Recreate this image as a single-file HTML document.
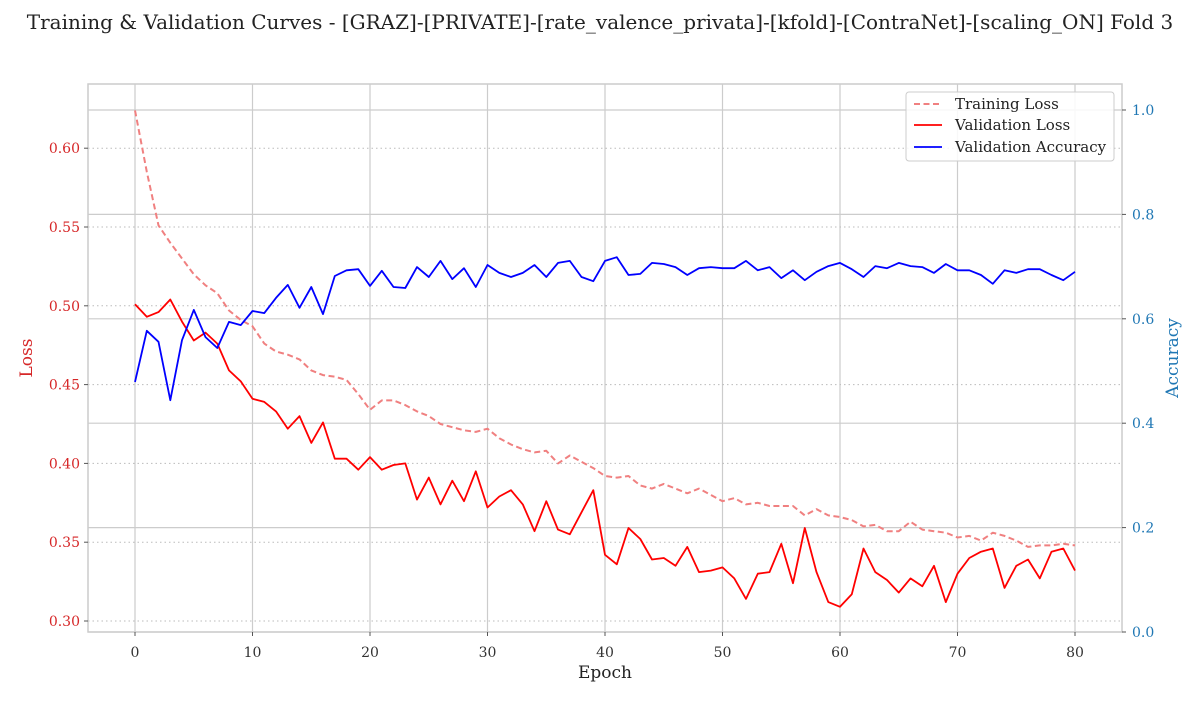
<!DOCTYPE html>
<html><head><meta charset="utf-8"><style>
body{margin:0;background:#fff}
svg text{font-family:"DejaVu Serif","Liberation Serif",serif}
</style></head><body>
<svg id="chart" width="1200" height="700" xmlns="http://www.w3.org/2000/svg">
<text x="600" y="29" text-anchor="middle" font-size="20" fill="#222">Training &amp; Validation Curves - [GRAZ]-[PRIVATE]-[rate_valence_privata]-[kfold]-[ContraNet]-[scaling_ON] Fold 3</text>
<g id="grid"></g><g id="series"></g><g id="axes"></g>
</svg>
<script>
const epochs=[];for(let i=0;i<=80;i++)epochs.push(i);
const trainLoss=[0.624,0.585,0.551,0.540,0.530,0.520,0.513,0.508,0.497,0.491,0.487,0.476,0.471,0.469,0.466,0.459,0.456,0.455,0.453,0.444,0.434,0.440,0.440,0.437,0.433,0.430,0.425,0.423,0.421,0.420,0.422,0.416,0.412,0.409,0.407,0.408,0.400,0.405,0.401,0.397,0.392,0.391,0.392,0.386,0.384,0.387,0.384,0.381,0.384,0.380,0.376,0.378,0.374,0.375,0.373,0.373,0.373,0.367,0.371,0.367,0.366,0.364,0.360,0.361,0.357,0.357,0.363,0.358,0.357,0.356,0.353,0.354,0.351,0.356,0.354,0.351,0.347,0.348,0.348,0.349,0.348];
const valLoss=[0.501,0.493,0.496,0.504,0.490,0.478,0.483,0.476,0.459,0.452,0.441,0.439,0.433,0.422,0.430,0.413,0.426,0.403,0.403,0.396,0.404,0.396,0.399,0.400,0.377,0.391,0.374,0.389,0.376,0.395,0.372,0.379,0.383,0.374,0.357,0.376,0.358,0.355,0.369,0.383,0.342,0.336,0.359,0.352,0.339,0.340,0.335,0.347,0.331,0.332,0.334,0.327,0.314,0.330,0.331,0.349,0.324,0.359,0.331,0.312,0.309,0.317,0.346,0.331,0.326,0.318,0.327,0.322,0.335,0.312,0.330,0.340,0.344,0.346,0.321,0.335,0.339,0.327,0.344,0.346,0.332];
const valAcc=[0.479,0.577,0.556,0.444,0.559,0.617,0.565,0.544,0.594,0.588,0.615,0.611,0.640,0.665,0.621,0.661,0.609,0.682,0.693,0.695,0.663,0.692,0.661,0.659,0.699,0.680,0.711,0.676,0.697,0.661,0.703,0.688,0.680,0.688,0.703,0.680,0.707,0.711,0.680,0.672,0.711,0.718,0.684,0.686,0.707,0.705,0.699,0.684,0.697,0.699,0.697,0.697,0.711,0.693,0.699,0.678,0.693,0.674,0.690,0.701,0.707,0.695,0.680,0.701,0.697,0.707,0.701,0.699,0.688,0.705,0.693,0.693,0.684,0.667,0.693,0.688,0.695,0.695,0.684,0.674,0.690];
const xTicks=[0,10,20,30,40,50,60,70,80];
const lossTicks=[0.30,0.35,0.40,0.45,0.50,0.55,0.60];
const accTicks=[0.0,0.2,0.4,0.6,0.8,1.0];
const L=88,R=1122,T=84,B=632;
const xs=e=>135+e*11.75;
const yL=v=>621-(v-0.30)*1576;
const yA=v=>632-v*522;
const NS="http://www.w3.org/2000/svg";
function mk(tag,attrs,parent,txt){const el=document.createElementNS(NS,tag);for(const k in attrs)el.setAttribute(k,attrs[k]);if(txt!==undefined)el.textContent=txt;parent.appendChild(el);return el;}
const grid=document.getElementById('grid'),ser=document.getElementById('series'),axes=document.getElementById('axes');
xTicks.forEach(t=>{const g=mk('line',{x1:xs(t),x2:xs(t),y1:T,y2:B,stroke:'#cccccc','stroke-width':1.2},grid);

});
accTicks.forEach(t=>{const g=mk('line',{x1:L,x2:R,y1:yA(t),y2:yA(t),stroke:'#cccccc','stroke-width':1.2},grid);

});
lossTicks.forEach(t=>{const g=mk('line',{x1:L,x2:R,y1:yL(t),y2:yL(t),stroke:'#bbbbbb','stroke-width':1,'stroke-dasharray':'1.5,3'},grid);

});
function poly(arr,yf,attrs,name){const p=arr.map((v,i)=>xs(epochs[i]).toFixed(1)+','+yf(v).toFixed(1)).join(' ');const el=mk('polyline',Object.assign({points:p,fill:'none','stroke-linejoin':'round'},attrs),ser);

}
poly(trainLoss,yL,{stroke:'#f08080','stroke-width':2,'stroke-dasharray':'6,3.5'},'training-loss-line');
poly(valLoss,yL,{stroke:'#ff0000','stroke-width':1.8},'validation-loss-line');
poly(valAcc,yA,{stroke:'#0000ff','stroke-width':1.8},'validation-accuracy-line');
const frame=mk('rect',{x:L,y:T,width:R-L,height:B-T,fill:'none',stroke:'#cccccc','stroke-width':1.5},axes);


xTicks.forEach(t=>{mk('line',{x1:xs(t),x2:xs(t),y1:B,y2:B+4,stroke:'#555'},axes);const tx=mk('text',{x:xs(t),y:B+25,'text-anchor':'middle','font-size':14,fill:'#333'},axes,String(t));

});
lossTicks.forEach(t=>{mk('line',{x1:L-4,x2:L,y1:yL(t),y2:yL(t),stroke:'#555'},axes);const tx=mk('text',{x:L-8,y:yL(t)+5,'text-anchor':'end','font-size':14,fill:'#d62728'},axes,t.toFixed(2));

});
accTicks.forEach(t=>{mk('line',{x1:R,x2:R+4,y1:yA(t),y2:yA(t),stroke:'#555'},axes);const tx=mk('text',{x:R+10,y:yA(t)+5,'font-size':14,fill:'#1f77b4'},axes,t.toFixed(1));

});
</script>
<svg style="position:absolute;left:0;top:0" width="1200" height="700" xmlns="http://www.w3.org/2000/svg">
<text x="605" y="678" text-anchor="middle" font-size="17" fill="#222" font-family="DejaVu Serif, serif">Epoch</text>
<text transform="translate(32,358) rotate(-90)" text-anchor="middle" font-size="17" fill="#d62728" font-family="DejaVu Serif, serif">Loss</text>
<text transform="translate(1178,358) rotate(-90)" text-anchor="middle" font-size="17" fill="#1f77b4" font-family="DejaVu Serif, serif">Accuracy</text>
<g font-family="DejaVu Serif, serif" font-size="15" fill="#222">
<rect x="906" y="92" width="208" height="69" rx="3" fill="#fff" fill-opacity="0.85" stroke="#cccccc"/>
<g><line x1="914" x2="942" y1="104" y2="104" stroke="#f08080" stroke-width="2" stroke-dasharray="6,3.5"/><text x="955" y="109">Training Loss</text></g>
<g><line x1="914" x2="942" y1="125" y2="125" stroke="#ff0000" stroke-width="1.8"/><text x="955" y="130">Validation Loss</text></g>
<g><line x1="914" x2="942" y1="147" y2="147" stroke="#0000ff" stroke-width="1.8"/><text x="955" y="152">Validation Accuracy</text></g>
</g>
</svg>
</body></html>
